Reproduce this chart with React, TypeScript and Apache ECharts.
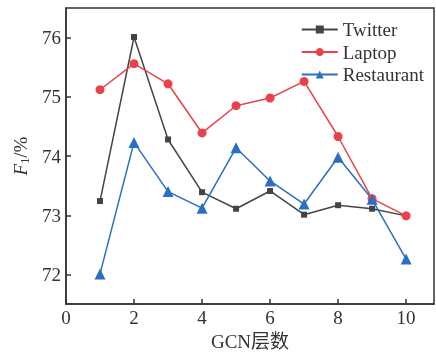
import React, { useEffect, useRef } from "react";
import * as echarts from "echarts";

const layers = [1, 2, 3, 4, 5, 6, 7, 8, 9, 10];
const twitter = [73.24, 76.01, 74.28, 73.39, 73.11, 73.41, 73.01, 73.17, 73.11, 72.99];
const laptop = [75.12, 75.56, 75.22, 74.39, 74.85, 74.98, 75.26, 74.33, 73.28, 72.99];
const restaurant = [72.01, 74.23, 73.4, 73.12, 74.14, 73.58, 73.19, 73.98, 73.27, 72.26];
const xTicks = [0, 2, 4, 6, 8, 10];
const yTicks = [72, 73, 74, 75, 76];

const serif = "'Liberation Serif', 'Times New Roman', 'Noto Sans CJK SC', serif";

export default function App() {
  const ref = useRef<HTMLDivElement>(null);
  useEffect(() => {
    const chart = echarts.init(ref.current!, null, { renderer: "svg" });
    const pair = (vals: number[]) => layers.map((x, i) => [x, vals[i]]);
    chart.setOption({
      animation: false,
      grid: {
        left: 66,
        right: 2,
        top: 8,
        bottom: 46,
        show: true,
        borderColor: "#333",
        borderWidth: 1.5,
        backgroundColor: "transparent",
      },
      legend: {
        right: 7,
        top: 15,
        orient: "vertical",
        itemWidth: 36,
        itemHeight: 10,
        itemGap: 3.5,
        textStyle: { fontFamily: serif, fontSize: 19, lineHeight: 19, color: "#333" },
        data: ["Twitter", "Laptop", "Restaurant"],
      },
      xAxis: {
        type: "value",
        min: 0,
        max: 10.82,
        name: "GCN层数",
        nameLocation: "middle",
        nameGap: 24,
        nameTextStyle: { fontFamily: serif, fontSize: 19, color: "#333" },
        axisLine: { show: true, lineStyle: { color: "#333", width: 1.5 } },
        axisTick: { show: true, inside: true, length: 5, customValues: xTicks, lineStyle: { color: "#333", width: 1.5 } },
        axisLabel: { customValues: xTicks, fontFamily: serif, fontSize: 19, color: "#333", margin: 4 },
        splitLine: { show: false },
      },
      yAxis: {
        type: "value",
        min: 71.5,
        max: 76.5,
        name: "{i|F}{s|1}{n|/%}",
        nameLocation: "middle",
        nameGap: 28,
        nameTextStyle: {
          fontFamily: serif,
          fontSize: 19,
          color: "#333",
          rich: {
            i: { fontFamily: serif, fontStyle: "italic", fontSize: 19, color: "#333" },
            s: { fontFamily: serif, fontSize: 12, color: "#333", verticalAlign: "bottom", padding: [9, 0, 0, 0] },
            n: { fontFamily: serif, fontSize: 19, color: "#333" },
          },
        },
        axisLine: { show: true, lineStyle: { color: "#333", width: 1.5 } },
        axisTick: { show: true, inside: true, length: 5, customValues: yTicks, lineStyle: { color: "#333", width: 1.5 } },
        axisLabel: { customValues: yTicks, fontFamily: serif, fontSize: 19, color: "#333", margin: 5 },
        splitLine: { show: false },
      },
      series: [
        {
          name: "Twitter",
          type: "line",
          data: pair(twitter),
          symbol: "rect",
          symbolSize: 6,
          lineStyle: { color: "#444", width: 1.5 },
          itemStyle: { color: "#444" },
        },
        {
          name: "Laptop",
          type: "line",
          data: pair(laptop),
          symbol: "circle",
          symbolSize: 9,
          lineStyle: { color: "#e8434a", width: 1.5 },
          itemStyle: { color: "#e8434a" },
        },
        {
          name: "Restaurant",
          type: "line",
          data: pair(restaurant),
          symbol: "triangle",
          symbolSize: 11,
          lineStyle: { color: "#2a6fc2", width: 1.5 },
          itemStyle: { color: "#2a6fc2" },
        },
      ],
    });
    return () => chart.dispose();
  }, []);
  return <div ref={ref} style={{ position: "fixed", left: 0, top: 0, width: 436, height: 356 }} />;
}
